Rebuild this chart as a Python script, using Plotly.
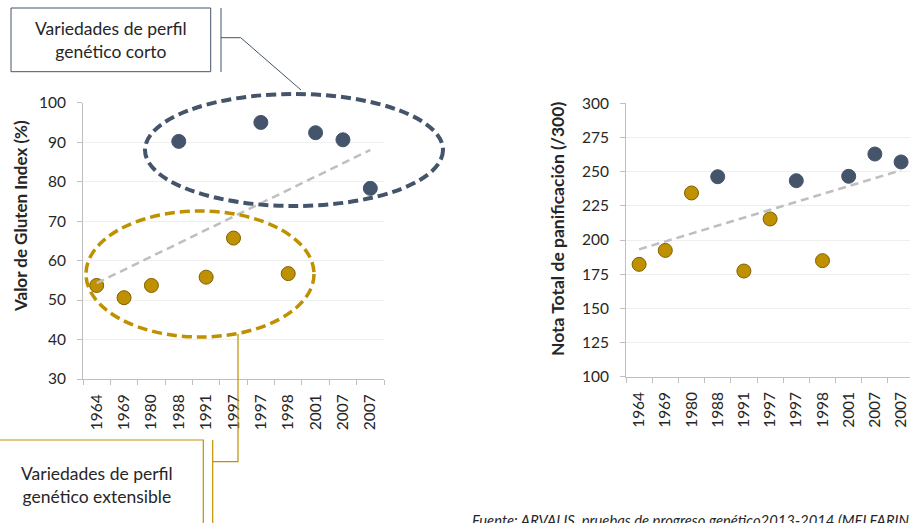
import numpy as np
import plotly.graph_objects as go

# ---------------- data ----------------
years = ["1964", "1969", "1980", "1988", "1991", "1997", "1997", "1998", "2001", "2007", "2007"]
profile = ["ext", "ext", "ext", "corto", "ext", "ext", "corto", "ext", "corto", "corto", "corto"]
gluten_index = [53.7, 50.6, 53.7, 90.2, 55.8, 65.7, 95.0, 56.7, 92.4, 90.6, 78.3]
nota_total = [182.2, 192.4, 234.4, 246.3, 177.3, 215.4, 243.4, 184.9, 246.6, 262.9, 257.1]

NAVY = "#44546A"
GOLD = "#BF9000"
GOLD_EDGE = "#7F6000"
TREND = "#BFBFBF"
AXIS = "#BFBFBF"
GRID = "#EFEFEF"
TXT = "#262626"
FONT = "Lato"

W, H = 910, 523


def px(x):
    return x / W


def py(y):
    return 1 - y / H


idx = list(range(len(years)))
fig = go.Figure()


def add_panel(vals, xa, ya):
    for grp, col, edge in (("ext", GOLD, GOLD_EDGE), ("corto", NAVY, NAVY)):
        xs = [i for i in idx if profile[i] == grp]
        ys = [vals[i] for i in idx if profile[i] == grp]
        fig.add_trace(go.Scatter(
            x=xs, y=ys, mode="markers", xaxis=xa, yaxis=ya, showlegend=False,
            marker=dict(size=14, color=col, line=dict(color=edge, width=1)),
            hoverinfo="skip"))
    m, b = np.polyfit(idx, vals, 1)
    tx = [idx[0], idx[-1]]
    fig.add_trace(go.Scatter(
        x=tx, y=[m * t + b for t in tx], mode="lines", xaxis=xa, yaxis=ya,
        showlegend=False, line=dict(color=TREND, width=2.5, dash="8px,5px"),
        hoverinfo="skip"))


add_panel(gluten_index, "x", "y")
add_panel(nota_total, "x2", "y2")

xcommon = dict(
    tickmode="array", tickvals=idx, ticktext=years, tickangle=-90, automargin=False,
    ticks="", showline=True, linecolor=AXIS, linewidth=1, showgrid=False,
    zeroline=False, tickfont=dict(family=FONT, size=15.5, color=TXT),
    ticklabelstandoff=8,
    minor=dict(tick0=-0.5, dtick=1, ticks="outside", ticklen=5, tickcolor=AXIS, showgrid=False),
)
ycommon = dict(
    ticks="outside", ticklen=5, tickcolor=AXIS, showline=True, linecolor=AXIS,
    linewidth=1, showgrid=True, gridcolor=GRID, gridwidth=1, zeroline=False,
    automargin=False, tickfont=dict(family=FONT, size=15.5, color=TXT),
    ticklabelstandoff=8,
)

fig.update_layout(
    width=W, height=H, margin=dict(l=0, r=0, t=0, b=0, autoexpand=False),
    paper_bgcolor="white", plot_bgcolor="white", font=dict(family=FONT),
    xaxis=dict(domain=[px(83), px(384)], range=[-0.5, 10.5], anchor="y", **xcommon),
    yaxis=dict(domain=[py(379), py(102.7)], range=[30, 100], dtick=10, anchor="x", **ycommon),
    xaxis2=dict(domain=[px(626), 1.0], range=[-0.5, 10.34], anchor="y2", **xcommon),
    yaxis2=dict(domain=[py(376.7), py(103.3)], range=[100, 300], dtick=25, anchor="x2", **ycommon),
)

annotations = [
    dict(text="<b>Valor de Gluten Index (%)</b>", x=px(20), y=py(216), textangle=-90,
         font=dict(family=FONT, size=17, color=TXT)),
    dict(text="<b>Nota Total de panificación (/300)</b>", x=px(557), y=py(229), textangle=-90,
         font=dict(family=FONT, size=17.5, color=TXT)),
    dict(text="Variedades de perfil<br>genético corto", x=px(111), y=py(40),
         font=dict(family=FONT, size=17.5, color=TXT), align="center"),
    dict(text="Variedades de perfil<br>genético extensible", x=px(97), y=py(485),
         font=dict(family=FONT, size=17.5, color=TXT), align="center"),
    dict(text="<i>Fuente: ARVALIS, pruebas de progreso genético2013-2014 (MELFARINA)</i>",
         x=px(470), y=py(520), xanchor="left", font=dict(family=FONT, size=14.8, color=TXT)),
]
for a in annotations:
    a.update(xref="paper", yref="paper", showarrow=False)
    a.setdefault("xanchor", "center")
    a.setdefault("yanchor", "middle")
fig.update_layout(annotations=annotations)


def path(points):
    return "M " + " L ".join(f"{px(x):.5f},{py(y):.5f}" for x, y in points)


shapes = [
    # ellipses
    dict(type="circle", x0=px(145), x1=px(443), y0=py(206), y1=py(94),
         line=dict(color=NAVY, width=4, dash="10px,5px")),
    dict(type="circle", x0=px(86), x1=px(314), y0=py(337), y1=py(211),
         line=dict(color=GOLD, width=3.5, dash="10px,5px")),
    # top callout box
    dict(type="rect", x0=px(11), x1=px(210.7), y0=py(71.7), y1=py(8),
         line=dict(color=NAVY, width=1)),
    dict(type="path", path=path([(221, 8), (221, 72)]), line=dict(color=NAVY, width=1)),
    dict(type="path", path=path([(221, 37.7), (240.7, 37.7), (301, 90)]), line=dict(color=NAVY, width=1)),
    # bottom callout box
    dict(type="rect", x0=px(-5), x1=px(203.3), y0=py(535), y1=py(440),
         line=dict(color=GOLD, width=1.2)),
    dict(type="path", path=path([(212.7, 440), (212.7, 535)]), line=dict(color=GOLD, width=1.2)),
    dict(type="path", path=path([(212.7, 461.7), (238, 461.7), (238, 334)]), line=dict(color=GOLD, width=1.2)),
]
for s in shapes:
    s.update(xref="paper", yref="paper", layer="above")
fig.update_layout(shapes=shapes)

fig.write_html("out.html", config={"displayModeBar": False},
               post_script="document.body.style.margin='0';document.body.style.overflow='hidden';")
